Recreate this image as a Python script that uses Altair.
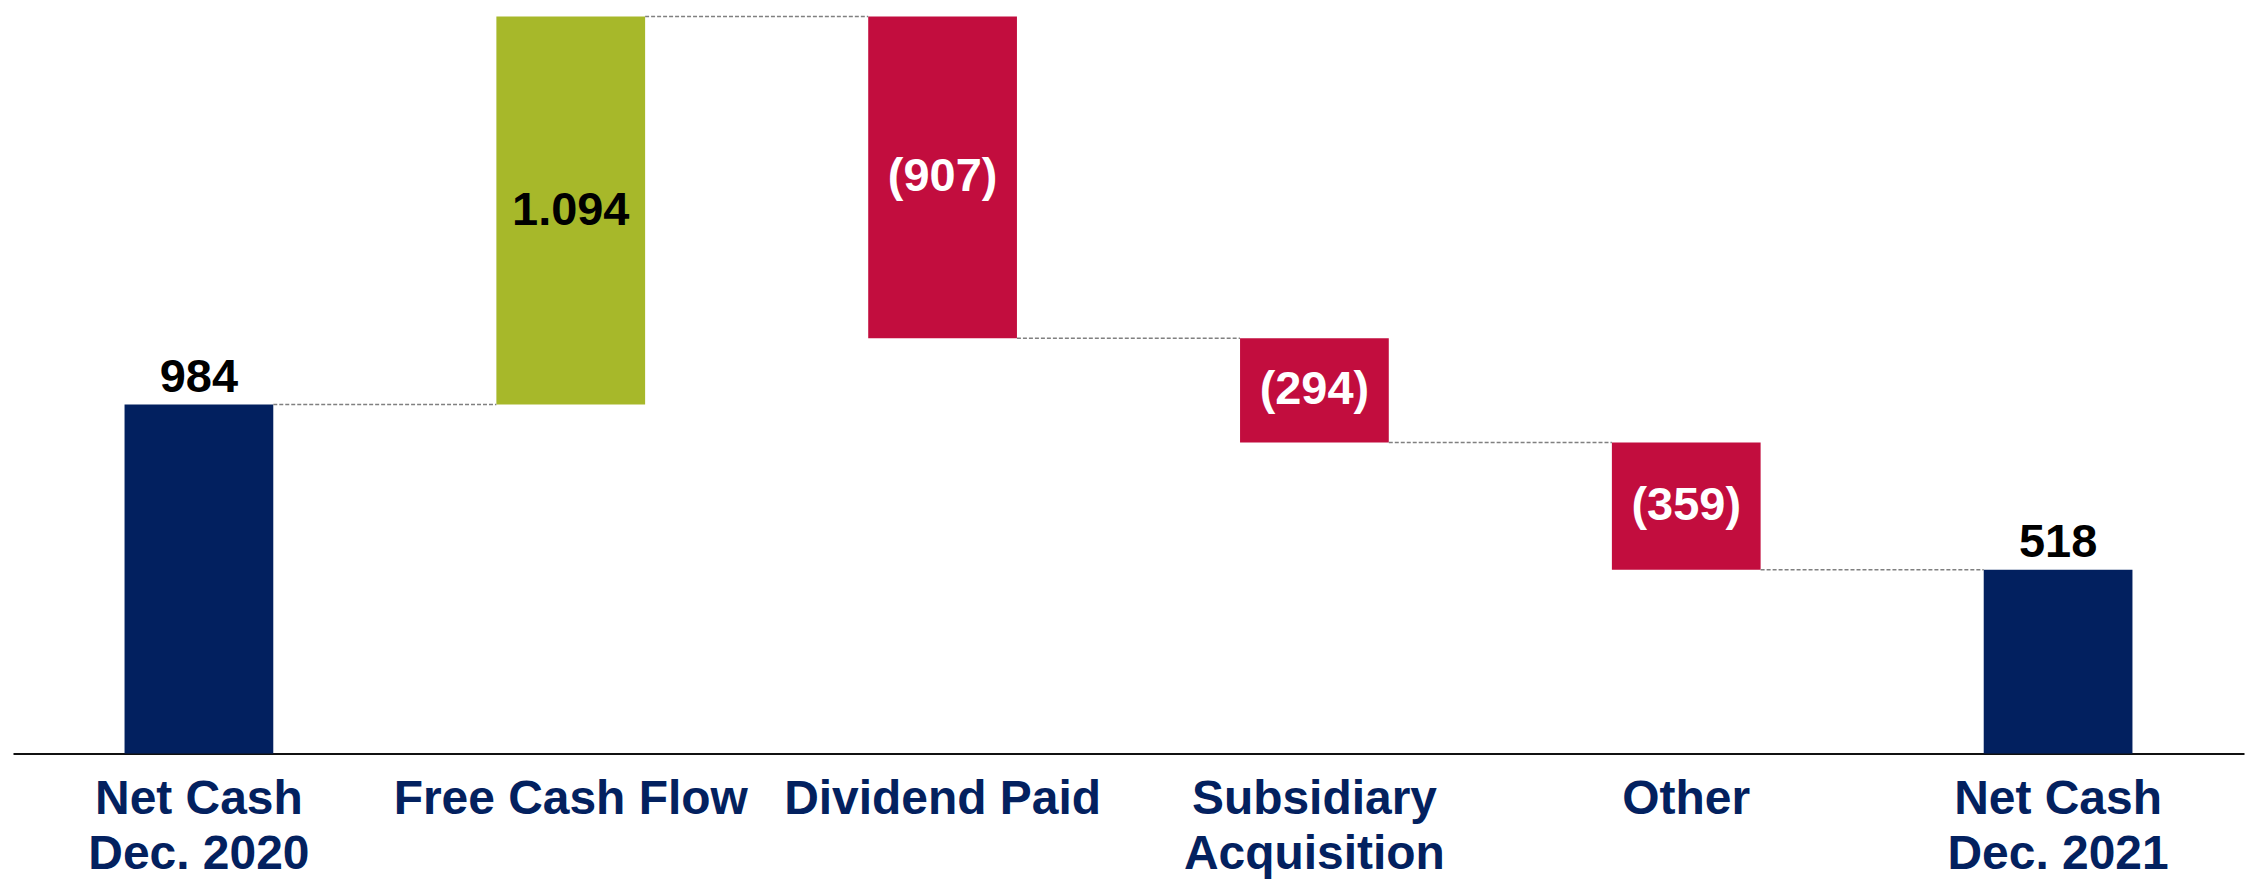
import altair as alt
import pandas as pd

categories = ["Net Cash|Dec. 2020", "Free Cash Flow", "Dividend Paid",
              "Subsidiary|Acquisition", "Other", "Net Cash|Dec. 2021"]
amounts = [984, 1094, -907, -294, -359, 518]
kinds = ["total", "increase", "decrease", "decrease", "decrease", "total"]
value_labels = ["984", "1.094", "(907)", "(294)", "(359)", "518"]

kind_domain = ["total", "increase", "decrease"]
kind_colors = ["#02205F", "#A7B82A", "#C20D3E"]

HALF = 0.2  # half bar width, in category steps

rows = []
running = 0
for i, (cat, amt, kind, lab) in enumerate(zip(categories, amounts, kinds, value_labels)):
    if kind == "total":
        start, end = 0, amt
        running = amt
    else:
        start, end = running, running + amt
        running = running + amt
    parts = cat.split("|")
    rows.append({"idx": i, "line1": parts[0], "line2": parts[1] if len(parts) > 1 else "",
                 "start": start, "end": end, "kind": kind,
                 "label": lab, "mid": (start + end) / 2, "top": max(start, end),
                 "base": 0, "x0": i - HALF, "x1": i + HALF})
df = pd.DataFrame(rows)
df_tot = df[df["kind"] == "total"]
df_inc = df[df["kind"] == "increase"]
df_dec = df[df["kind"] == "decrease"]

seg = []
for i in range(len(categories) - 1):
    seg.append({"seg": i, "cx": i + HALF, "level": rows[i]["end"]})
    seg.append({"seg": i, "cx": i + 1 - HALF, "level": rows[i]["end"]})
df_seg = pd.DataFrame(seg)

ymax = int(df["top"].max())
n = len(categories)

xscale = alt.Scale(domain=[-0.5, n - 0.5], nice=False, zero=False)
yscale = alt.Scale(domain=[0, ymax], nice=False, zero=True)

x_axis = alt.Axis(title=None, labels=False, ticks=False, grid=False,
                  domainColor="#111111", domainWidth=2)

bars = alt.Chart(df).mark_bar().encode(
    x=alt.X("x0:Q", scale=xscale, axis=x_axis),
    x2="x1:Q",
    y=alt.Y("start:Q", scale=yscale, axis=None),
    y2="end:Q",
    color=alt.Color("kind:N", scale=alt.Scale(domain=kind_domain, range=kind_colors), legend=None),
)

connectors = alt.Chart(df_seg).mark_line(color="#808080", strokeWidth=1.5, strokeDash=[4, 2]).encode(
    x=alt.X("cx:Q", scale=xscale),
    y=alt.Y("level:Q", scale=yscale),
    detail="seg:N",
)

def txt(data, field, ycol, baseline, dy, color, size):
    return alt.Chart(data).mark_text(
        font="Liberation Sans", fontWeight="bold", fontSize=size, baseline=baseline,
        dy=dy, color=color).encode(
        x=alt.X("idx:Q", scale=xscale),
        y=alt.Y(ycol + ":Q", scale=yscale),
        text=field + ":N",
    )

top_labels = txt(df_tot, "label", "top", "alphabetic", -13, "#000000", 47)
inc_labels = txt(df_inc, "label", "mid", "middle", 0, "#000000", 47)
dec_labels = txt(df_dec, "label", "mid", "middle", 0, "#FFFFFF", 47)
cat1 = txt(df, "line1", "base", "top", 22, "#03215F", 48)
cat2 = txt(df, "line2", "base", "top", 78, "#03215F", 48)

chart = alt.layer(bars, connectors, top_labels, inc_labels, dec_labels, cat1, cat2).properties(
    width=2234, height=738,
    view=alt.ViewBackground(stroke="transparent"),
)

chart.save("out.html", embed_options={"renderer": "svg", "actions": False})
